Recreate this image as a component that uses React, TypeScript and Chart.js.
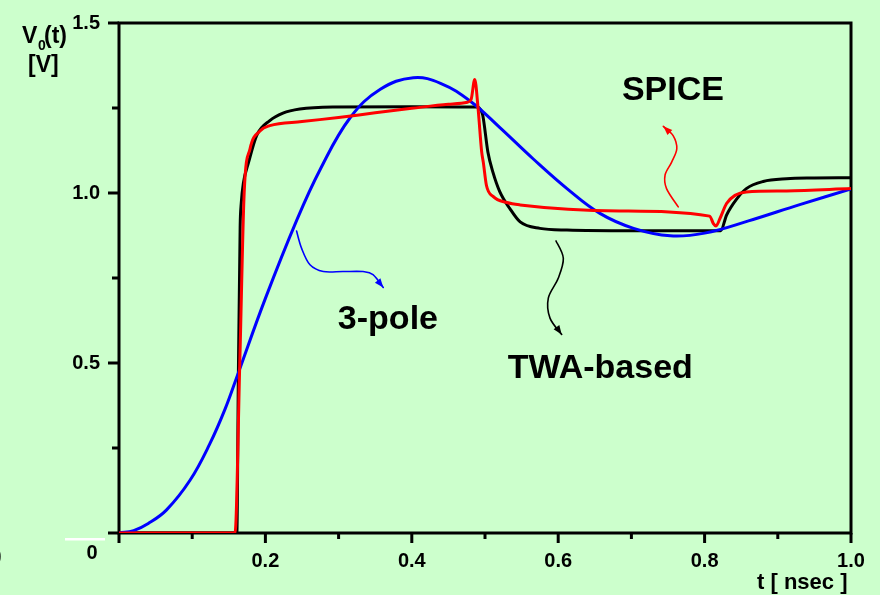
import React, { useEffect, useRef } from 'react';
import { Chart, registerables } from 'chart.js';

Chart.register(...registerables);

// ---- data (t in nsec, V in volts) ----
const tTWA = [0, 0.161, 0.163, 0.1655, 0.167, 0.170, 0.177, 0.188, 0.206, 0.224, 0.247, 0.292, 0.40, 0.490, 0.494, 0.497, 0.504, 0.511, 0.520, 0.534, 0.548, 0.575, 0.612, 0.70, 0.822, 0.830, 0.844, 0.857, 0.880, 0.912, 0.95, 1.0];
const vTWA = [0, 0, 0.45, 0.90, 0.97, 1.03, 1.09, 1.169, 1.213, 1.235, 1.247, 1.253, 1.254, 1.253, 1.245, 1.228, 1.12, 1.06, 1.005, 0.954, 0.915, 0.896, 0.891, 0.889, 0.889, 0.935, 0.983, 1.013, 1.034, 1.042, 1.044, 1.045];

const tPole = [0, 0.02, 0.04, 0.065, 0.097, 0.124, 0.145, 0.162, 0.20, 0.243, 0.275, 0.316, 0.357, 0.402, 0.44, 0.48, 0.52, 0.566, 0.612, 0.657, 0.703, 0.753, 0.80, 0.86, 0.93, 1.0];
const vPole = [0, 0.007, 0.028, 0.068, 0.155, 0.262, 0.365, 0.465, 0.69, 0.921, 1.07, 1.222, 1.305, 1.339, 1.322, 1.27, 1.193, 1.10, 1.013, 0.94, 0.896, 0.874, 0.882, 0.918, 0.966, 1.012];

const tSpice = [0, 0.1585, 0.165, 0.171, 0.179, 0.193, 0.206, 0.25, 0.30, 0.35, 0.40, 0.45, 0.476, 0.481, 0.486, 0.4905, 0.4955, 0.4977, 0.502, 0.511, 0.530, 0.548, 0.684, 0.807, 0.812, 0.8156, 0.821, 0.830, 0.8415, 0.857, 0.912, 1.0];
const vSpice = [0, 0, 0.50, 1.0, 1.13, 1.183, 1.198, 1.21, 1.222, 1.236, 1.249, 1.261, 1.267, 1.275, 1.334, 1.25, 1.12, 1.09, 1.022, 0.99, 0.972, 0.965, 0.947, 0.932, 0.910, 0.903, 0.925, 0.969, 0.993, 1.003, 1.006, 1.013];

const xTickLabels = ['0.2', '0.4', '0.6', '0.8', '1.0'];
const yTickLabels = ['0.5', '1.0', '1.5'];

// annotation arrows, in data coordinates
const arrowPoleT = [0.2426, 0.2495, 0.2609, 0.2791, 0.306, 0.3333, 0.347, 0.361];
const arrowPoleV = [0.888, 0.837, 0.789, 0.769, 0.769, 0.769, 0.760, 0.722];
const arrowSpiceT = [0.764, 0.748, 0.746, 0.755, 0.762, 0.757, 0.7436];
const arrowSpiceV = [0.959, 1.013, 1.053, 1.091, 1.130, 1.169, 1.196];
const arrowTwaT = [0.597, 0.607, 0.600, 0.5865, 0.5888, 0.6048];
const arrowTwaV = [0.859, 0.808, 0.749, 0.691, 0.632, 0.584];

const labelText = ['SPICE', '3-pole', 'TWA-based'];
const labelT = [0.687, 0.299, 0.531];
const labelV = [1.275, 0.599, 0.456];

const BG = '#CCFFCC';
const BOLD = '"Liberation Sans", Arial, Helvetica, sans-serif';

const toXY = (ts: number[], vs: number[]) => ts.map((t, i) => ({ x: t, y: vs[i] }));

function drawArrow(ctx: CanvasRenderingContext2D, pts: { x: number; y: number }[], color: string) {
  ctx.save();
  ctx.strokeStyle = color;
  ctx.fillStyle = color;
  ctx.lineWidth = 1.6;
  ctx.lineCap = 'round';
  ctx.beginPath();
  ctx.moveTo(pts[0].x, pts[0].y);
  for (let i = 0; i < pts.length - 1; i++) {
    const p0 = pts[Math.max(0, i - 1)];
    const p1 = pts[i];
    const p2 = pts[i + 1];
    const p3 = pts[Math.min(pts.length - 1, i + 2)];
    const c1x = p1.x + (p2.x - p0.x) / 6;
    const c1y = p1.y + (p2.y - p0.y) / 6;
    const c2x = p2.x - (p3.x - p1.x) / 6;
    const c2y = p2.y - (p3.y - p1.y) / 6;
    ctx.bezierCurveTo(c1x, c1y, c2x, c2y, p2.x, p2.y);
  }
  ctx.stroke();
  const a = pts[pts.length - 1];
  const b = pts[pts.length - 2];
  const ang = Math.atan2(a.y - b.y, a.x - b.x);
  const L = 9, W = 3.5;
  ctx.beginPath();
  ctx.moveTo(a.x, a.y);
  ctx.lineTo(a.x - L * Math.cos(ang) + W * Math.sin(ang), a.y - L * Math.sin(ang) - W * Math.cos(ang));
  ctx.lineTo(a.x - L * Math.cos(ang) - W * Math.sin(ang), a.y - L * Math.sin(ang) + W * Math.cos(ang));
  ctx.closePath();
  ctx.fill();
  ctx.restore();
}

const decor = {
  id: 'decor',
  beforeDraw(chart: any) {
    const ctx = chart.ctx;
    ctx.save();
    ctx.fillStyle = BG;
    ctx.fillRect(0, 0, chart.width, chart.height);
    ctx.restore();
  },
  beforeDatasetsDraw(chart: any) {
    const ctx: CanvasRenderingContext2D = chart.ctx;
    const { left, right, top, bottom } = chart.chartArea;
    const xs = chart.scales.x;
    const ys = chart.scales.y;
    ctx.save();
    ctx.strokeStyle = '#000';
    ctx.lineWidth = 3;
    ctx.lineCap = 'butt';
    ctx.strokeRect(left, top, right - left, bottom - top);
    xs.ticks.forEach((tk: any) => {
      const major = Math.abs(tk.value * 5 - Math.round(tk.value * 5)) < 1e-6;
      const px = xs.getPixelForValue(tk.value);
      ctx.beginPath();
      ctx.moveTo(px, bottom);
      ctx.lineTo(px, bottom + (major ? 10 : 6));
      ctx.stroke();
    });
    ys.ticks.forEach((tk: any) => {
      const major = Math.abs(tk.value * 2 - Math.round(tk.value * 2)) < 1e-6;
      const py = ys.getPixelForValue(tk.value);
      ctx.beginPath();
      ctx.moveTo(left, py);
      ctx.lineTo(left - (major ? 11 : 7), py);
      ctx.stroke();
    });
    ctx.restore();
  },
  afterDatasetsDraw(chart: any) {
    const ctx: CanvasRenderingContext2D = chart.ctx;
    const xs = chart.scales.x;
    const ys = chart.scales.y;
    const conv = (ts: number[], vs: number[]) =>
      ts.map((t, i) => ({ x: xs.getPixelForValue(t), y: ys.getPixelForValue(vs[i]) }));
    drawArrow(ctx, conv(arrowPoleT, arrowPoleV), '#0000FF');
    drawArrow(ctx, conv(arrowSpiceT, arrowSpiceV), '#FF0000');
    drawArrow(ctx, conv(arrowTwaT, arrowTwaV), '#000000');

    ctx.save();
    ctx.fillStyle = '#000';
    ctx.textBaseline = 'alphabetic';
    ctx.textAlign = 'left';
    ctx.font = `bold 34px ${BOLD}`;
    labelText.forEach((s, i) => {
      ctx.fillText(s, xs.getPixelForValue(labelT[i]), ys.getPixelForValue(labelV[i]));
    });

    // origin label
    ctx.font = `bold 20px ${BOLD}`;
    ctx.textAlign = 'center';
    ctx.fillText('0', 92, 559);
    ctx.textAlign = 'left';
    ctx.fillText(')', -5, 562);
    ctx.fillStyle = '#FFFFFF';
    ctx.fillRect(65, 538, 40, 2.5);

    // y axis title V0(t) [V]
    ctx.fillStyle = '#000';
    ctx.font = `bold 23px ${BOLD}`;
    ctx.fillText('V', 22, 43);
    ctx.font = `bold 14px ${BOLD}`;
    ctx.fillText('0', 38, 50);
    ctx.font = `bold 23px ${BOLD}`;
    ctx.fillText('(t)', 44, 43);
    ctx.fillText('[V]', 28, 72);

    // x axis title
    ctx.font = `bold 22px ${BOLD}`;
    ctx.fillText('t [ nsec ]', 757, 589);
    ctx.restore();
  },
};

export default function App() {
  const ref = useRef<HTMLCanvasElement | null>(null);
  useEffect(() => {
    document.body.style.margin = '0';
    document.body.style.background = BG;
    const canvas = ref.current!;
    const chart = new Chart(canvas, {
      type: 'line',
      data: {
        datasets: [
          {
            label: 'SPICE',
            data: toXY(tSpice, vSpice),
            borderColor: '#FF0000',
            borderWidth: 3,
            pointRadius: 0,
            cubicInterpolationMode: 'monotone',
            fill: false,
          },
          {
            label: '3-pole',
            data: toXY(tPole, vPole),
            borderColor: '#0000FF',
            borderWidth: 3,
            pointRadius: 0,
            tension: 0.4,
            fill: false,
          },
          {
            label: 'TWA-based',
            data: toXY(tTWA, vTWA),
            borderColor: '#000000',
            borderWidth: 3,
            pointRadius: 0,
            cubicInterpolationMode: 'monotone',
            fill: false,
          },
        ],
      },
      options: {
        responsive: false,
        animation: false,
        devicePixelRatio: 1,
        layout: { padding: { left: 0, top: 9, right: 29, bottom: 0 } },
        plugins: {
          legend: { display: false },
          tooltip: { enabled: false },
          title: { display: false },
        },
        scales: {
          x: {
            type: 'linear',
            min: 0,
            max: 1,
            grid: { display: false },
            border: { display: false },
            afterFit: (s: any) => { s.height = 62; },
            ticks: {
              stepSize: 0.1,
              autoSkip: false,
              maxRotation: 0,
              padding: 8,
              color: '#000',
              font: { family: BOLD, size: 20, weight: 'bold' },
              callback: (v: any) => {
                const s = Number(v).toFixed(1);
                return Math.abs(v * 5 - Math.round(v * 5)) < 1e-6 && xTickLabels.includes(s) ? s : '';
              },
            },
          },
          y: {
            type: 'linear',
            min: 0,
            max: 1.5,
            grid: { display: false },
            border: { display: false },
            afterFit: (s: any) => { s.width = 119; },
            ticks: {
              stepSize: 0.25,
              autoSkip: false,
              padding: 11,
              color: '#000',
              font: { family: BOLD, size: 20, weight: 'bold' },
              callback: (v: any) => {
                const s = Number(v).toFixed(1);
                return Math.abs(v * 2 - Math.round(v * 2)) < 1e-6 && yTickLabels.includes(s) ? s : '';
              },
            },
          },
        },
      },
      plugins: [decor],
    } as any);
    return () => chart.destroy();
  }, []);
  return (
    <div style={{ position: 'fixed', left: 0, top: 0, width: 880, height: 595, background: BG }}>
      <canvas ref={ref} width={880} height={595} style={{ display: 'block' }} />
    </div>
  );
}
